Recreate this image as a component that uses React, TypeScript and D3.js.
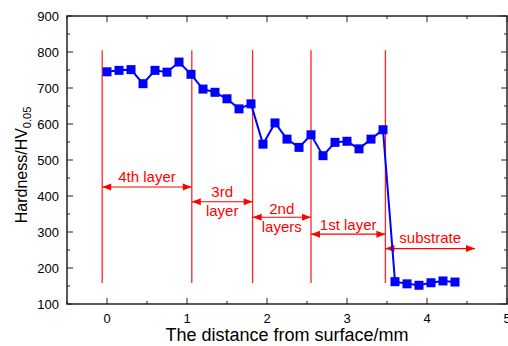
import React from "react";
import * as d3 from "d3";

// measured points (distance in mm, hardness HV0.05)
const distance = [
  0, 0.15, 0.3, 0.45, 0.6, 0.75, 0.9, 1.05, 1.2, 1.35, 1.5, 1.65, 1.8, 1.95, 2.1,
  2.25, 2.4, 2.55, 2.7, 2.85, 3.0, 3.15, 3.3, 3.45, 3.6, 3.75, 3.9, 4.05, 4.2, 4.35,
];
const hardness = [
  745, 749, 751, 712, 749, 744, 772, 738, 697, 688, 670, 642, 656, 544, 603,
  558, 535, 570, 512, 549, 552, 531, 558, 584, 162, 156, 152, 159, 164, 161,
];

// layer annotations
const boundaries = [-0.06, 1.06, 1.82, 2.55, 3.48];
const boundaryTop = 805;
const boundaryBottom = 158;
const layerNames = [["4th layer"], ["3rd", "layer"], ["2nd", "layers"], ["1st layer"], ["substrate"]];
const layerEnds = [1.06, 1.82, 2.55, 3.48, 4.6];
const arrowLevels = [425, 384, 341, 294, 254];
const labelLevels = [[453], [413, 359], [364, 315], [322], [286]];

const xTicks = [0, 1, 2, 3, 4, 5];
const yTicks = [100, 200, 300, 400, 500, 600, 700, 800, 900];

export default function App() {
  const W = 508;
  const H = 346;
  const margin = { top: 16, right: 1, bottom: 42, left: 67 };
  const x = d3.scaleLinear().domain([-0.5, 5]).range([margin.left, W - margin.right]);
  const y = d3.scaleLinear().domain([100, 900]).range([H - margin.bottom, margin.top]);

  const pts = distance.map((d, i) => ({ d, h: hardness[i] }));
  const line = d3
    .line<{ d: number; h: number }>()
    .x((p) => x(p.d))
    .y((p) => y(p.h));

  const x0 = x.range()[0];
  const x1 = x.range()[1];
  const y0 = y.range()[0];
  const y1 = y.range()[1];
  const font = "Arial, 'Liberation Sans', sans-serif";
  const red = "#ff0000";

  const xMinor = d3.range(-0.5, 5.01, 0.5).filter((v) => !xTicks.includes(v));
  const yMinor = d3.range(150, 900, 100);

  const arrow = (xa: number, xb: number, yy: number, key: string) => {
    const a = x(xa);
    const b = x(xb);
    const py = y(yy);
    return (
      <g key={key}>
        <line x1={a} x2={b} y1={py} y2={py} stroke={red} strokeWidth={1.2} />
        <path d={`M${a},${py}L${a + 9},${py - 3.5}L${a + 9},${py + 3.5}Z`} fill={red} />
        <path d={`M${b},${py}L${b - 9},${py - 3.5}L${b - 9},${py + 3.5}Z`} fill={red} />
      </g>
    );
  };

  return (
    <svg
      width={W}
      height={H}
      style={{ position: "absolute", left: 0, top: 0, background: "#fff" }}
      fontFamily={font}
    >
      {/* layer boundaries */}
      {boundaries.map((b, i) => (
        <line
          key={"b" + i}
          x1={x(b)}
          x2={x(b)}
          y1={y(boundaryTop)}
          y2={y(boundaryBottom)}
          stroke={red}
          strokeWidth={1.3}
          opacity={0.85}
        />
      ))}

      {/* arrows + labels */}
      {layerNames.map((names, i) => {
        const start = boundaries[i];
        const end = layerEnds[i];
        const mid = (start + end) / 2;
        return (
          <g key={"l" + i}>
            {arrow(start, end, arrowLevels[i], "a" + i)}
            {names.map((n, j) => (
              <text
                key={j}
                x={x(mid)}
                y={y(labelLevels[i][j])}
                fill={red}
                fontSize={15}
                textAnchor="middle"
                dominantBaseline="central"
              >
                {n}
              </text>
            ))}
          </g>
        );
      })}

      {/* data */}
      <path d={line(pts) ?? ""} fill="none" stroke="#0000ff" strokeWidth={2} />
      {pts.map((p, i) => (
        <rect key={"p" + i} x={x(p.d) - 4.5} y={y(p.h) - 4.5} width={9} height={9} fill="#0000ff" />
      ))}

      {/* frame */}
      <rect x={x0} y={y1} width={x1 - x0} height={y0 - y1} fill="none" stroke="#222" strokeWidth={1.5} />

      {/* x ticks (inward, bottom and top) */}
      {xTicks.map((t) => (
        <g key={"xt" + t}>
          <line x1={x(t)} x2={x(t)} y1={y0} y2={y0 - 6} stroke="#222" />
          <line x1={x(t)} x2={x(t)} y1={y1} y2={y1 + 6} stroke="#222" />
          <text x={x(t)} y={y0 + 19} fontSize={13} textAnchor="middle" fill="#000">
            {t}
          </text>
        </g>
      ))}
      {xMinor.map((t) => (
        <g key={"xm" + t}>
          <line x1={x(t)} x2={x(t)} y1={y0} y2={y0 - 3} stroke="#222" />
          <line x1={x(t)} x2={x(t)} y1={y1} y2={y1 + 3} stroke="#222" />
        </g>
      ))}

      {/* y ticks (inward, left and right) */}
      {yTicks.map((t) => (
        <g key={"yt" + t}>
          <line x1={x0} x2={x0 + 6} y1={y(t)} y2={y(t)} stroke="#222" />
          <line x1={x1} x2={x1 - 6} y1={y(t)} y2={y(t)} stroke="#222" />
          <text x={x0 - 8} y={y(t)} fontSize={13} textAnchor="end" dominantBaseline="central" fill="#000">
            {t}
          </text>
        </g>
      ))}
      {yMinor.map((t) => (
        <g key={"ym" + t}>
          <line x1={x0} x2={x0 + 3} y1={y(t)} y2={y(t)} stroke="#222" />
          <line x1={x1} x2={x1 - 3} y1={y(t)} y2={y(t)} stroke="#222" />
        </g>
      ))}

      {/* axis titles */}
      <text x={287} y={341} fontSize={18} textAnchor="middle" fill="#000">
        The distance from surface/mm
      </text>
      <text transform="translate(27,165) rotate(-90)" fontSize={16} textAnchor="middle" fill="#000">
        Hardness/HV
        <tspan fontSize={11} dy={4}>
          0.05
        </tspan>
      </text>
    </svg>
  );
}
